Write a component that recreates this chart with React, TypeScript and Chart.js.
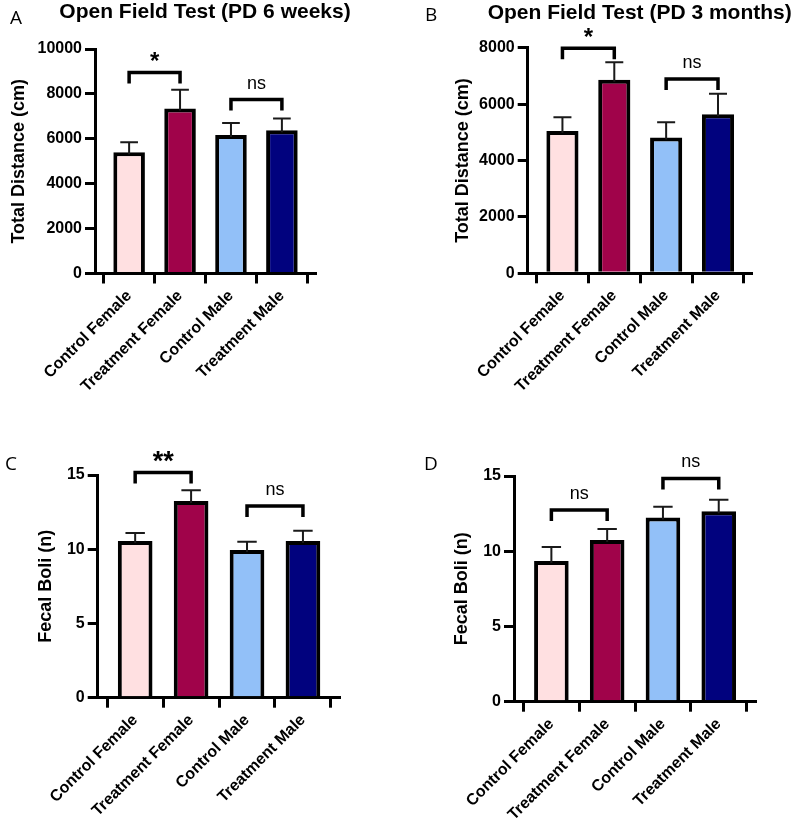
import React, { useEffect, useRef } from 'react';
import { Chart, registerables } from 'chart.js';

Chart.register(...registerables);
Chart.defaults.font.family = '"Liberation Sans", Arial, sans-serif';
Chart.defaults.color = '#000';

// ---------- data ----------
const categories = ['Control Female', 'Treatment Female', 'Control Male', 'Treatment Male'];
const barColors = ['#FFE0E1', '#A0034A', '#92C0F8', '#01027E'];

// A: Open Field Test (PD 6 weeks)
const distance6wMean = [5400, 7350, 6170, 6380];
const distance6wSem = [450, 840, 530, 520];
// B: Open Field Test (PD 3 months)
const distance3mMean = [5050, 6860, 4820, 5640];
const distance3mSem = [480, 620, 540, 730];
// C: Fecal boli
const boliCMean = [10.55, 13.25, 9.95, 10.55];
const boliCSem = [0.55, 0.73, 0.55, 0.7];
// D: Fecal boli
const boliDMean = [9.35, 10.75, 12.25, 12.65];
const boliDSem = [0.93, 0.72, 0.7, 0.77];

// significance brackets (y in data units)
const sigA = [
  { from: 0, to: 1, y: 8950, label: '*' },
  { from: 2, to: 3, y: 7745, label: 'ns' },
];
const sigB = [
  { from: 0, to: 1, y: 7980, label: '*' },
  { from: 2, to: 3, y: 6890, label: 'ns' },
];
const sigC = [
  { from: 0, to: 1, y: 15.16, label: '**' },
  { from: 2, to: 3, y: 12.92, label: 'ns' },
];
const sigD = [
  { from: 0, to: 1, y: 12.74, label: 'ns' },
  { from: 2, to: 3, y: 14.84, label: 'ns' },
];

// ---------- panel layout ----------
type Panel = {
  letter: string;
  title?: string;
  yTitle: string;
  mean: number[];
  sem: number[];
  yMax: number;
  yStep: number;
  sig: { from: number; to: number; y: number; label: string }[];
  starSize: number;
  box: { left: number; top: number; w: number; h: number };
  area: { left: number; right: number; top: number; bottom: number };
  titleY: number;
  letterPos: { x: number; y: number };
  yTitleX: number;
};

const panels: Panel[] = [
  {
    letter: 'A',
    title: 'Open Field Test (PD 6 weeks)',
    yTitle: 'Total Distance (cm)',
    mean: distance6wMean,
    sem: distance6wSem,
    yMax: 10000,
    yStep: 2000,
    sig: sigA,
    starSize: 24,
    box: { left: 0, top: 0, w: 398, h: 410 },
    area: { left: 95, right: 315, top: 49, bottom: 273.5 },
    titleY: 17.5,
    letterPos: { x: 10, y: 23.5 },
    yTitleX: 19.5,
  },
  {
    letter: 'B',
    title: 'Open Field Test (PD 3 months)',
    yTitle: 'Total Distance (cm)',
    mean: distance3mMean,
    sem: distance3mSem,
    yMax: 8000,
    yStep: 2000,
    sig: sigB,
    starSize: 24,
    box: { left: 398, top: 0, w: 399, h: 410 },
    area: { left: 129.7, right: 353.7, top: 47.7, bottom: 273.3 },
    titleY: 18.5,
    letterPos: { x: 27, y: 21 },
    yTitleX: 65,
  },
  {
    letter: 'C',
    yTitle: 'Fecal Boli (n)',
    mean: boliCMean,
    sem: boliCSem,
    yMax: 15,
    yStep: 5,
    sig: sigC,
    starSize: 27,
    box: { left: 0, top: 410, w: 398, h: 419 },
    area: { left: 97.7, right: 339.3, top: 65, bottom: 287.7 },
    titleY: 0,
    letterPos: { x: 5, y: 60 },
    yTitleX: 45.8,
  },
  {
    letter: 'D',
    yTitle: 'Fecal Boli (n)',
    mean: boliDMean,
    sem: boliDSem,
    yMax: 15,
    yStep: 5,
    sig: sigD,
    starSize: 27,
    box: { left: 398, top: 410, w: 399, h: 419 },
    area: { left: 116, right: 357, top: 66, bottom: 291.7 },
    titleY: 0,
    letterPos: { x: 26, y: 60 },
    yTitleX: 64.5,
  },
];

function PanelChart({ p }: { p: Panel }) {
  const ref = useRef<HTMLCanvasElement | null>(null);

  useEffect(() => {
    if (!ref.current) return;
    const { box, area } = p;

    const overlay = {
      id: 'overlay' + p.letter,
      afterDraw(chart: any) {
        const ctx = chart.ctx as CanvasRenderingContext2D;
        const xs = chart.scales.x;
        const ys = chart.scales.y;
        ctx.save();
        // error bars (upper SEM)
        const meta = chart.getDatasetMeta(0);
        meta.data.forEach((bar: any, i: number) => {
          const topY = ys.getPixelForValue(p.mean[i] + p.sem[i]);
          const half = bar.width * 0.28;
          ctx.strokeStyle = '#1a1a1a';
          ctx.lineWidth = 2;
          ctx.lineCap = 'butt';
          ctx.beginPath();
          ctx.moveTo(bar.x, bar.y + 2);
          ctx.lineTo(bar.x, topY);
          ctx.moveTo(bar.x - half, topY);
          ctx.lineTo(bar.x + half, topY);
          ctx.stroke();
        });
        // significance brackets
        p.sig.forEach((s) => {
          const x1 = xs.getPixelForValue(s.from);
          const x2 = xs.getPixelForValue(s.to);
          const yy = ys.getPixelForValue(s.y);
          ctx.strokeStyle = '#000';
          ctx.lineWidth = 3.5;
          ctx.lineJoin = 'miter';
          ctx.beginPath();
          ctx.moveTo(x1, yy + 11);
          ctx.lineTo(x1, yy);
          ctx.lineTo(x2, yy);
          ctx.lineTo(x2, yy + 11);
          ctx.stroke();
          ctx.fillStyle = '#000';
          ctx.font =
            s.label === 'ns'
              ? '18px "Liberation Sans", Arial, sans-serif'
              : `bold ${p.starSize}px "Liberation Sans", Arial, sans-serif`;
          ctx.textAlign = 'center';
          ctx.textBaseline = 'alphabetic';
          const m = ctx.measureText(s.label);
          const cy = yy - 16;
          ctx.fillText(s.label, (x1 + x2) / 2, cy + (m.actualBoundingBoxAscent - m.actualBoundingBoxDescent) / 2);
        });
        // panel title
        if (p.title) {
          ctx.font = 'bold 21px "Liberation Sans", Arial, sans-serif';
          ctx.textAlign = 'center';
          ctx.textBaseline = 'alphabetic';
          ctx.fillText(p.title, (chart.chartArea.left + chart.chartArea.right) / 2, p.titleY);
        }
        // panel letter
        ctx.font = '19px "Open Sans", "Noto Sans", sans-serif';
        ctx.textAlign = 'left';
        ctx.textBaseline = 'alphabetic';
        ctx.fillText(p.letter, p.letterPos.x, p.letterPos.y);
        ctx.restore();
      },
    };

    const chart = new Chart(ref.current, {
      type: 'bar',
      data: {
        datasets: [
          {
            data: p.mean.map((v, i) => ({ x: i, y: v })),
            backgroundColor: barColors,
            borderColor: '#000',
            borderWidth: 4,
            borderSkipped: 'start',
            barPercentage: 0.62,
            categoryPercentage: 1,
          },
        ],
      },
      options: {
        responsive: false,
        animation: false,
        devicePixelRatio: 1,
        layout: {
          padding: { left: 0, top: area.top, right: box.w - area.right, bottom: 0 },
        },
        plugins: {
          legend: { display: false },
          tooltip: { enabled: false },
          title: { display: false },
        },
        scales: {
          x: {
            type: 'linear',
            min: -0.67,
            max: 3.65,
            offset: false,
            afterFit: (scale: any) => {
              scale.height = box.h - area.bottom;
            },
            afterBuildTicks: (scale: any) => {
              scale.ticks = categories.map((_, i) => ({ value: i }));
            },
            ticks: {
              autoSkip: false,
              minRotation: 45,
              maxRotation: 45,
              padding: 3,
              font: { size: 16, weight: 'bold' },
              color: '#000',
              callback: (v: any) => categories[Number(v)] ?? '',
            },
            grid: {
              drawOnChartArea: false,
              drawTicks: true,
              tickLength: 10,
              lineWidth: 3,
              color: '#000',
            },
            border: { display: true, color: '#000', width: 3 },
          },
          y: {
            type: 'linear',
            min: 0,
            max: p.yMax,
            afterFit: (scale: any) => {
              scale.width = area.left;
            },
            ticks: {
              stepSize: p.yStep,
              padding: 3,
              font: { size: 16, weight: 'bold' },
              color: '#000',
              callback: (v: any) => String(v),
            },
            grid: {
              drawOnChartArea: false,
              drawTicks: true,
              tickLength: 10,
              lineWidth: 3,
              color: '#000',
            },
            border: { display: true, color: '#000', width: 3 },
            title: {
              display: true,
              text: p.yTitle,
              color: '#000',
              font: { size: 18, weight: 'bold' },
              padding: { top: p.yTitleX - 10.8, bottom: 0 },
            },
          },
        },
      },
      plugins: [overlay],
    } as any);

    return () => chart.destroy();
  }, [p]);

  return (
    <canvas
      ref={ref}
      width={p.box.w}
      height={p.box.h}
      style={{ position: 'absolute', left: p.box.left, top: p.box.top, width: p.box.w, height: p.box.h }}
    />
  );
}

export default function App() {
  return (
    <div style={{ position: 'absolute', left: 0, top: 0, width: 797, height: 829, background: '#fff' }}>
      {panels.map((p) => (
        <PanelChart key={p.letter} p={p} />
      ))}
    </div>
  );
}
